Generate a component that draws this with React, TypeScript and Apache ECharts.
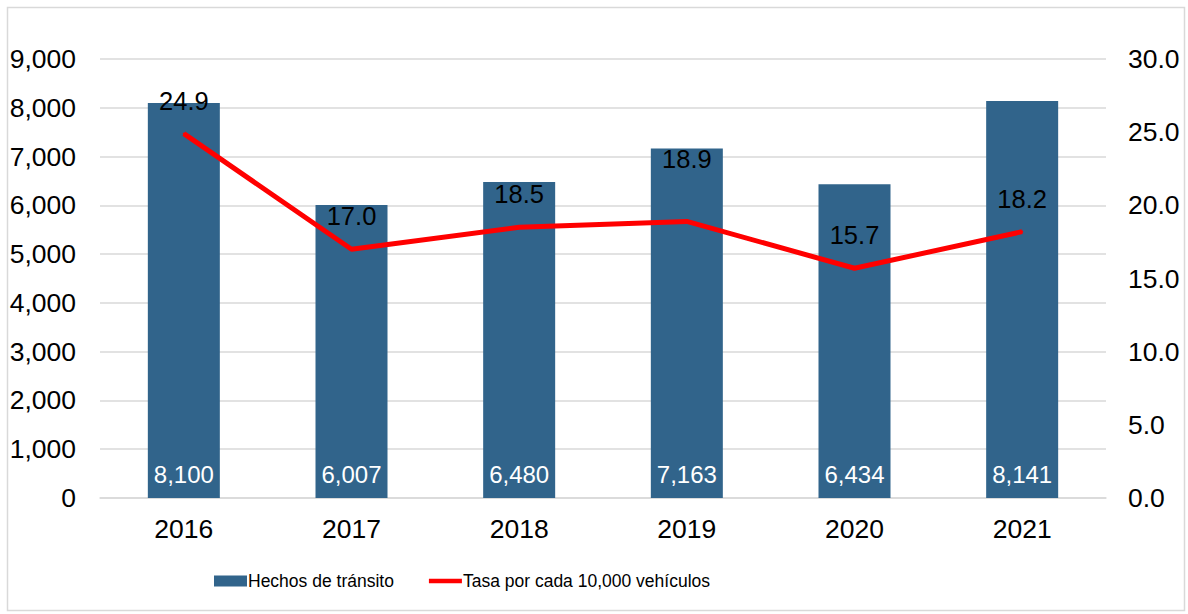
import React, { useEffect, useRef } from "react";
import * as echarts from "echarts";

const years = ["2016", "2017", "2018", "2019", "2020", "2021"];
const hechos = [8100, 6007, 6480, 7163, 6434, 8141];
const tasa = [24.9, 17.0, 18.5, 18.9, 15.7, 18.2];
const leftTicks = { min: 0, max: 9000, interval: 1000 };
const rightTicks = { min: 0, max: 30, interval: 5 };

// extra upward shift of individual rate labels (as placed in the original)
const rateLabelLift = [0, 0, 0, 29, 0, 0];

const FONT = "'Liberation Sans', Arial, sans-serif";
const BAR_COLOR = "#31648B";

export default function App() {
  const ref = useRef<HTMLDivElement>(null);
  useEffect(() => {
    document.body.style.margin = "0";
    const chart = echarts.init(ref.current!, undefined, { renderer: "svg" });
    const fmt = (v: number) => v.toLocaleString("en-US");
    chart.setOption({
      animation: false,
      backgroundColor: "#ffffff",
      textStyle: { fontFamily: FONT },
      graphic: [
        {
          type: "rect",
          shape: { x: 7.5, y: 7.5, width: 1177, height: 603 },
          style: { fill: "none", stroke: "#d9d9d9", lineWidth: 1.5 },
          silent: true,
        },
      ],
      grid: { left: 100, right: 82, top: 59, bottom: 116, containLabel: false },
      legend: {
        left: 209,
        top: 567,
        itemWidth: 33,
        itemHeight: 11,
        itemGap: 35,
        textStyle: {
          fontFamily: FONT,
          fontSize: 17.5,
          color: "#000",
          padding: [0, 0, 0, -4],
        },
        data: [
          { name: "Hechos de tránsito", icon: "rect" },
          {
            name: "Tasa por cada 10,000 vehículos",
            icon: "path://M0,0H37V5H0Z",
            itemStyle: { color: "#ff0000" },
          },
        ],
      },
      xAxis: {
        type: "category",
        data: years,
        axisLine: { show: true, lineStyle: { color: "#d9d9d9", width: 1.5 } },
        axisTick: { show: false },
        axisLabel: { color: "#000", fontSize: 26.5, margin: 17, fontFamily: FONT },
      },
      yAxis: [
        {
          type: "value",
          min: leftTicks.min,
          max: leftTicks.max,
          interval: leftTicks.interval,
          axisLine: { show: false },
          axisTick: { show: false },
          splitLine: { lineStyle: { color: "#d9d9d9", width: 1.5 } },
          axisLabel: {
            color: "#000",
            fontSize: 26.5,
            margin: 24,
            fontFamily: FONT,
            formatter: (v: number) => fmt(v),
          },
        },
        {
          type: "value",
          min: rightTicks.min,
          max: rightTicks.max,
          interval: rightTicks.interval,
          axisLine: { show: false },
          axisTick: { show: false },
          splitLine: { show: false },
          axisLabel: {
            color: "#000",
            fontSize: 26.5,
            margin: 22,
            fontFamily: FONT,
            formatter: (v: number) => v.toFixed(1),
          },
        },
      ],
      series: [
        {
          name: "Hechos de tránsito",
          type: "bar",
          data: hechos,
          barWidth: 72,
          itemStyle: { color: BAR_COLOR },
          label: {
            show: true,
            position: "insideBottom",
            distance: 12,
            color: "#fff",
            fontSize: 24,
            fontFamily: FONT,
            formatter: (p: any) => fmt(p.value),
          },
        },
        {
          name: "Tasa por cada 10,000 vehículos",
          type: "line",
          yAxisIndex: 1,
          symbol: "circle",
          symbolSize: 2,
          showSymbol: true,
          lineStyle: { color: "#ff0000", width: 5 },
          itemStyle: { color: "#ff0000" },
          data: tasa.map((v, i) => ({
            value: v,
            label: { offset: [0, -rateLabelLift[i]] },
          })),
          label: {
            show: true,
            position: "top",
            distance: 19,
            color: "#000",
            fontSize: 25.5,
            fontFamily: FONT,
            formatter: (p: any) => Number(p.value).toFixed(1),
          },
          z: 5,
        },
      ],
    });
    return () => chart.dispose();
  }, []);
  return (
    <div
      ref={ref}
      style={{ position: "absolute", left: 0, top: 0, width: 1188, height: 614 }}
    />
  );
}
